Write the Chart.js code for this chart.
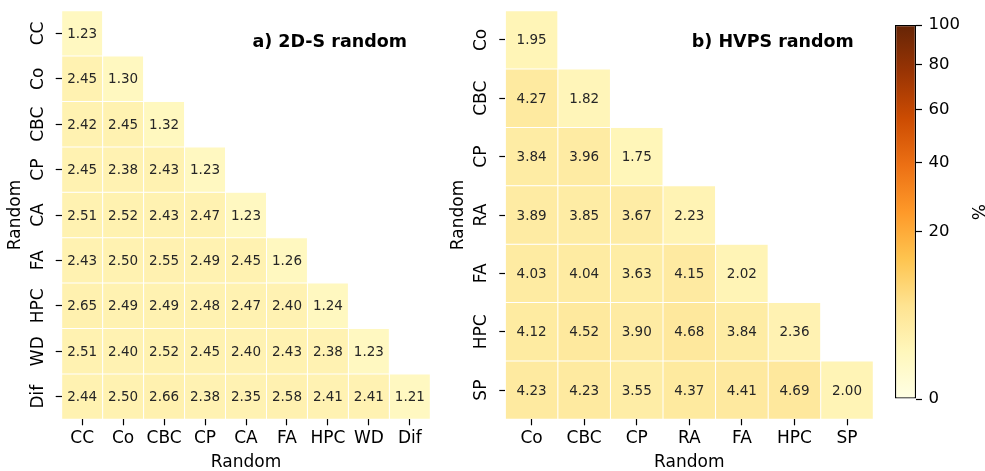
<!DOCTYPE html>
<html>
<head>
<meta charset="utf-8">
<script src="https://cdn.jsdelivr.net/npm/chart.js@4.4.1/dist/chart.umd.min.js"></script>
<style>
body { margin: 0; background: #fff; }
#wrap { position: relative; width: 985px; height: 471px; }
canvas { position: absolute; top: 0; }
</style>
</head>
<body>
<div id="wrap">
  <canvas id="left" width="440" height="471" style="left:0"></canvas>
  <canvas id="right" width="440" height="471" style="left:440px"></canvas>
  <canvas id="cbar" width="105" height="471" style="left:880px"></canvas>
</div>
<script>
// 2D-S random (lower triangle, rows top to bottom)
var labels2ds = ['CC', 'Co', 'CBC', 'CP', 'CA', 'FA', 'HPC', 'WD', 'Dif'];
var values2ds = [
  [1.23],
  [2.45, 1.30],
  [2.42, 2.45, 1.32],
  [2.45, 2.38, 2.43, 1.23],
  [2.51, 2.52, 2.43, 2.47, 1.23],
  [2.43, 2.50, 2.55, 2.49, 2.45, 1.26],
  [2.65, 2.49, 2.49, 2.48, 2.47, 2.40, 1.24],
  [2.51, 2.40, 2.52, 2.45, 2.40, 2.43, 2.38, 1.23],
  [2.44, 2.50, 2.66, 2.38, 2.35, 2.58, 2.41, 2.41, 1.21]
];

// HVPS random
var labelsHvps = ['Co', 'CBC', 'CP', 'RA', 'FA', 'HPC', 'SP'];
var valuesHvps = [
  [1.95],
  [4.27, 1.82],
  [3.84, 3.96, 1.75],
  [3.89, 3.85, 3.67, 2.23],
  [4.03, 4.04, 3.63, 4.15, 2.02],
  [4.12, 4.52, 3.90, 4.68, 3.84, 2.36],
  [4.23, 4.23, 3.55, 4.37, 4.41, 4.69, 2.00]
];

var cbarTicks = [0, 20, 40, 60, 80, 100];
var cbarMax = 100;

var FONT = '"DejaVu Sans", sans-serif';
var ylOrBr = ['#ffffe5', '#fff7bc', '#fee391', '#fec44f', '#fe9929', '#ec7014', '#cc4c02', '#993404', '#662506'];

function hexRgb(h) {
  return [parseInt(h.substr(1, 2), 16), parseInt(h.substr(3, 2), 16), parseInt(h.substr(5, 2), 16)];
}
function cmap(t) {
  t = Math.max(0, Math.min(1, t));
  var s = t * 8, i = Math.min(7, Math.floor(s)), f = s - i;
  var a = hexRgb(ylOrBr[i]), b = hexRgb(ylOrBr[i + 1]);
  return 'rgb(' + [0, 1, 2].map(function(k) { return Math.round(a[k] + (b[k] - a[k]) * f); }).join(',') + ')';
}
// colour scale is square-root normalised
function norm(v) { return Math.sqrt(v / cbarMax); }
function colorFor(v) { return cmap(norm(v)); }

var cellText = {
  id: 'cellText',
  afterDatasetsDraw: function(chart) {
    var ctx = chart.ctx;
    ctx.save();
    ctx.font = '13.5px ' + FONT;
    ctx.fillStyle = '#262626';
    ctx.textAlign = 'center';
    ctx.textBaseline = 'middle';
    chart.data.datasets.forEach(function(ds, i) {
      chart.getDatasetMeta(i).data.forEach(function(bar, j) {
        if (ds.values[j] == null) return;
        var p = bar.getCenterPoint();
        ctx.fillText(ds.values[j].toFixed(2), p.x, p.y + 1);
      });
    });
    ctx.restore();
  }
};

var panelTitle = {
  id: 'panelTitle',
  afterDraw: function(chart, args, opts) {
    var a = chart.chartArea, ctx = chart.ctx;
    ctx.save();
    ctx.font = 'bold 17.5px ' + FONT;
    ctx.fillStyle = '#000';
    ctx.textAlign = 'center';
    ctx.textBaseline = 'middle';
    ctx.fillText(opts.text, a.left + 0.727 * a.width, a.top + 0.078 * a.height);
    ctx.restore();
  }
};

function heatmap(id, labels, values, title, area) {
  var n = labels.length;
  var datasets = values.map(function(row, r) {
    return {
      data: labels.map(function(_, c) { return c < row.length ? [r - 0.5, r + 0.5] : null; }),
      values: row,
      backgroundColor: row.map(colorFor),
      borderColor: '#fff',
      borderWidth: 0.5,
      borderSkipped: false,
      inflateAmount: 0,
      grouped: false,
      categoryPercentage: 1,
      barPercentage: 1
    };
  });
  var tickFont = { family: FONT, size: 17 };
  return new Chart(document.getElementById(id), {
    type: 'bar',
    data: { labels: labels, datasets: datasets },
    options: {
      responsive: false,
      animation: false,
      layout: { padding: { top: area.top, right: area.right, left: 0, bottom: 0 } },
      plugins: { legend: { display: false }, tooltip: { enabled: false }, panelTitle: { text: title } },
      scales: {
        x: {
          type: 'category',
          offset: true,
          afterFit: function(s) { s.height = area.xh; },
          ticks: { color: '#000', font: tickFont, padding: 3.5, maxRotation: 0, autoSkip: false },
          grid: { offset: false, drawOnChartArea: false, tickLength: 6, tickWidth: 1.2, tickColor: '#000' },
          border: { display: false },
          title: { display: true, text: 'Random', color: '#000', font: { family: FONT, size: 17, lineHeight: 1 }, padding: { top: 0, bottom: 0 } }
        },
        y: {
          type: 'linear',
          reverse: true,
          min: -0.5,
          max: n - 0.5,
          afterBuildTicks: function(s) { s.ticks = labels.map(function(_, i) { return { value: i }; }); },
          afterFit: function(s) { s.width = area.yw; },
          ticks: {
            color: '#000', font: tickFont, padding: 0, autoSkip: false,
            minRotation: 90, maxRotation: 90, crossAlign: 'center',
            callback: function(v, i) { return labels[i]; }
          },
          grid: { drawOnChartArea: false, tickLength: 6, tickWidth: 1.2, tickColor: '#000' },
          border: { display: false },
          title: { display: true, text: 'Random', color: '#000', font: { family: FONT, size: 17, lineHeight: 1 }, padding: { top: area.ytp, bottom: 0 } }
        }
      }
    },
    plugins: [cellText, panelTitle]
  });
}

heatmap('left', labels2ds, values2ds, 'a) 2D-S random', { top: 10.7, right: 9.7, xh: 51.7, yw: 61.7, ytp: 7 });
heatmap('right', labelsHvps, valuesHvps, 'b) HVPS random', { top: 10.7, right: 6.7, xh: 51.7, yw: 65.3, ytp: 10.5 });

// colour bar
new Chart(document.getElementById('cbar'), {
  type: 'bar',
  data: {
    labels: [''],
    datasets: [{
      data: [[0, norm(cbarMax)]],
      backgroundColor: function(c) {
        var a = c.chart.chartArea;
        if (!a) return ylOrBr[0];
        var g = c.chart.ctx.createLinearGradient(0, a.bottom, 0, a.top);
        ylOrBr.forEach(function(col, i) { g.addColorStop(i / 8, col); });
        return g;
      },
      borderColor: '#000',
      borderWidth: 1.3,
      borderSkipped: false,
      inflateAmount: 0,
      categoryPercentage: 1,
      barPercentage: 1
    }]
  },
  options: {
    responsive: false,
    animation: false,
    layout: { padding: { top: 25, left: 15, right: 0, bottom: 72 } },
    plugins: { legend: { display: false }, tooltip: { enabled: false } },
    scales: {
      x: { display: false },
      y: {
        position: 'right',
        min: 0,
        max: norm(cbarMax),
        afterBuildTicks: function(s) { s.ticks = cbarTicks.map(function(v) { return { value: norm(v) }; }); },
        afterFit: function(s) { s.width = 69; },
        ticks: {
          color: '#000', font: { family: FONT, size: 16.5 }, padding: 6.5, autoSkip: false,
          callback: function(v, i) { return String(cbarTicks[i]); }
        },
        grid: { drawOnChartArea: false, tickLength: 6, tickWidth: 1.2, tickColor: '#000' },
        border: { display: false },
        title: { display: true, text: '%', color: '#000', font: { family: FONT, size: 17, lineHeight: 1 }, padding: { top: 0.5, bottom: 0 } }
      }
    }
  }
});
</script>
</body>
</html>
